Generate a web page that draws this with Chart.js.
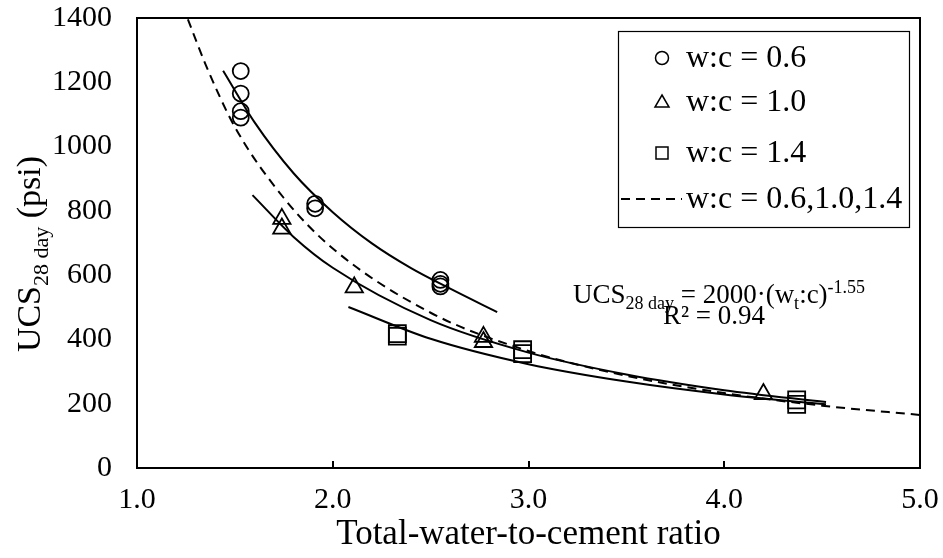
<!DOCTYPE html>
<html>
<head>
<meta charset="utf-8">
<script src="https://cdn.jsdelivr.net/npm/chart.js@4.4.1/dist/chart.umd.min.js"></script>
<style>
  html, body { margin: 0; background: #fff; }
  #wrap { width: 943px; height: 558px; }
</style>
</head>
<body>
<div id="wrap"><canvas id="chart"></canvas></div>
<script>
// ── Data ─────────────────────────────────────────────────────
const circleX   = [1.53, 1.53, 1.53, 1.53, 1.91, 1.91, 2.55, 2.55, 2.55];
const circleY   = [1235, 1165, 1110, 1090, 822, 808, 585, 573, 565];
const triangleX = [1.74, 1.74, 2.11, 2.77, 2.77, 4.20];
const triangleY = [775, 745, 562, 408, 392, 230];
const squareX   = [2.33, 2.33, 2.97, 2.97, 4.37, 4.37];
const squareY   = [418, 410, 368, 356, 212, 198];

// fitted curves
const fitCircleX = [1.44, 1.6, 1.8, 2.0, 2.2, 2.4, 2.6, 2.84];
const fitCircleY = [1236, 1076, 917, 796, 699, 622, 558, 485];
const fitTriX    = [1.59, 1.8, 2.0, 2.5, 3.0, 3.5, 4.0, 4.52];
const fitTriY    = [849, 719, 623, 460, 359, 291, 242, 205];
const fitSqX     = [2.08, 2.5, 3.0, 3.5, 4.0, 4.52];
const fitSqY     = [501, 402, 323, 269, 229, 198];
const fitAllX    = [1.26, 1.35, 1.5, 1.75, 2.0, 2.5, 3.0, 3.5, 4.0, 4.5, 5.0];
const fitAllY    = [1396, 1256, 1061, 840, 683, 483, 364, 287, 233, 194, 165];

const xTickLabels = ['1.0', '2.0', '3.0', '4.0', '5.0'];
const yTickLabels = ['0', '200', '400', '600', '800', '1000', '1200', '1400'];
const legendLabels = ['w:c = 0.6', 'w:c = 1.0', 'w:c = 1.4', 'w:c = 0.6,1.0,1.4'];

const SERIF = "'Liberation Serif', 'Times New Roman', serif";
const pts = (xs, ys) => xs.map((x, i) => ({ x, y: ys[i] }));

const markerSet = (data, style, radius) => ({
  data,
  pointStyle: style,
  pointRadius: radius,
  pointHoverRadius: radius,
  pointBorderWidth: 1.8,
  pointBorderColor: '#000',
  pointBackgroundColor: 'rgba(0,0,0,0)',
  showLine: false,
  order: 0,
});

const curveSet = (data, dash) => ({
  data,
  showLine: true,
  borderColor: '#000',
  borderWidth: 2,
  borderDash: dash,
  pointRadius: 0,
  cubicInterpolationMode: 'monotone',
  order: 1,
});

// keep the plot box fixed, whatever the tick labels need
const noAutoPad = s => { s.paddingTop = 0; s.paddingBottom = 0; s.paddingLeft = 0; s.paddingRight = 0; };

// ── Frame, inner ticks, legend, equation, y title ────────────
const decor = {
  id: 'decor',
  afterDraw(chart) {
    const { ctx, chartArea: a, scales: { x } } = chart;
    ctx.save();
    ctx.strokeStyle = '#000';
    ctx.lineWidth = 2;
    ctx.strokeRect(a.left, a.top, a.right - a.left, a.bottom - a.top);
    [2, 3, 4].forEach(v => {
      const px = Math.round(x.getPixelForValue(v));
      ctx.beginPath();
      ctx.moveTo(px, a.bottom);
      ctx.lineTo(px, a.bottom - 7);
      ctx.stroke();
    });

    // legend box
    ctx.lineWidth = 1.2;
    ctx.strokeRect(618.5, 31.5, 291, 196);
    const rows = [58, 102, 153, 199];
    ctx.lineWidth = 1.5;
    ctx.beginPath(); ctx.arc(662, rows[0], 6.5, 0, Math.PI * 2); ctx.stroke();
    ctx.beginPath();
    ctx.moveTo(662, rows[1] - 7); ctx.lineTo(669, rows[1] + 5); ctx.lineTo(655, rows[1] + 5);
    ctx.closePath(); ctx.stroke();
    ctx.strokeRect(656, rows[2] - 6, 12, 12);
    ctx.lineWidth = 2;
    ctx.setLineDash([9, 6]);
    ctx.beginPath(); ctx.moveTo(621, rows[3]); ctx.lineTo(682, rows[3]); ctx.stroke();
    ctx.setLineDash([]);

    ctx.fillStyle = '#000';
    ctx.textBaseline = 'middle';
    ctx.textAlign = 'left';
    ctx.font = `32px ${SERIF}`;
    legendLabels.forEach((t, i) => ctx.fillText(t, 686, rows[i] + 1));

    // equation
    const big = `27px ${SERIF}`, small = `18px ${SERIF}`;
    const parts = [
      ['UCS', big, 0], ['28 day', small, 6], [' = 2000\u00b7(w', big, 0],
      ['t', small, 6], [':c)', big, 0], ['-1.55', small, -10],
    ];
    ctx.textBaseline = 'alphabetic';
    let w = 0;
    parts.forEach(p => { ctx.font = p[1]; w += ctx.measureText(p[0]).width; });
    let cx = 719 - w / 2;
    parts.forEach(p => { ctx.font = p[1]; ctx.fillText(p[0], cx, 303 + p[2]); cx += ctx.measureText(p[0]).width; });
    ctx.font = big;
    ctx.textAlign = 'center';
    ctx.fillText('R\u00b2 = 0.94', 714, 324);

    // y title with subscript
    ctx.translate(40, 254);
    ctx.rotate(-Math.PI / 2);
    const yParts = [['UCS', `34px ${SERIF}`, 0], ['28 day', `22px ${SERIF}`, 8], [' (psi)', `34px ${SERIF}`, 0]];
    ctx.textAlign = 'left';
    w = 0;
    yParts.forEach(p => { ctx.font = p[1]; w += ctx.measureText(p[0]).width; });
    cx = -w / 2;
    yParts.forEach(p => { ctx.font = p[1]; ctx.fillText(p[0], cx, p[2]); cx += ctx.measureText(p[0]).width; });
    ctx.restore();
  }
};

new Chart(document.getElementById('chart'), {
  type: 'scatter',
  data: {
    datasets: [
      markerSet(pts(circleX, circleY), 'circle', 8),
      markerSet(pts(triangleX, triangleY), 'triangle', 10),
      markerSet(pts(squareX, squareY), 'rect', 12),
      curveSet(pts(fitCircleX, fitCircleY), []),
      curveSet(pts(fitTriX, fitTriY), []),
      curveSet(pts(fitSqX, fitSqY), []),
      curveSet(pts(fitAllX, fitAllY), [9, 6]),
    ]
  },
  options: {
    responsive: true,
    maintainAspectRatio: false,
    animation: false,
    layout: { padding: { left: 0, top: 18, right: 23, bottom: 0 } },
    plugins: { legend: { display: false }, tooltip: { enabled: false } },
    scales: {
      x: {
        type: 'linear', min: 1, max: 5,
        afterFit: s => { s.height = 90; noAutoPad(s); },
        grid: { display: false, drawTicks: false },
        border: { display: false },
        ticks: {
          stepSize: 1, padding: 14, color: '#000',
          font: { family: SERIF, size: 30 },
          callback: v => xTickLabels[v - 1],
        },
        title: {
          display: true, text: 'Total-water-to-cement ratio', color: '#000',
          font: { family: SERIF, size: 35 }, padding: { top: 0, bottom: 2 },
        }
      },
      y: {
        type: 'linear', min: 0, max: 1400,
        afterFit: s => { s.width = 137; noAutoPad(s); },
        grid: { display: false, drawTicks: false },
        border: { display: false },
        ticks: {
          stepSize: 200, padding: 25, color: '#000',
          font: { family: SERIF, size: 30 },
          callback: v => yTickLabels[v / 200],
        }
      }
    }
  },
  plugins: [decor]
});
</script>
</body>
</html>
